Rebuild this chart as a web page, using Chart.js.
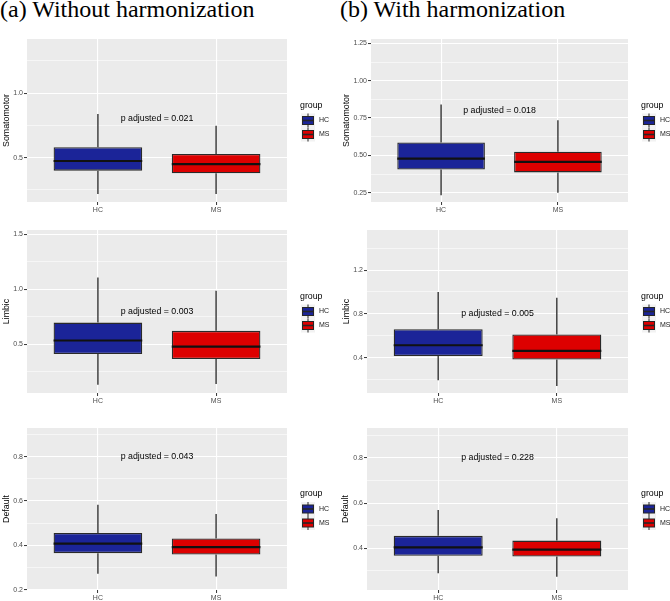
<!DOCTYPE html>
<html>
<head>
<meta charset="utf-8">
<script src="https://cdn.jsdelivr.net/npm/chart.js@4.4.1/dist/chart.umd.min.js"></script>
<style>
  body { margin: 0; background: #fff; width: 670px; height: 601px; overflow: hidden; position: relative; }
  .ttl { position: absolute; top: -3px; font-family: "Liberation Serif", "Times New Roman", serif; font-size: 24px; line-height: 24px; color: #000; white-space: nowrap; }
  canvas { position: absolute; display: block; }
</style>
</head>
<body>
<div class="ttl" style="left:0">(a) Without harmonization</div>
<div class="ttl" style="left:340px">(b) With harmonization</div>
<script>
// panels in reading order: row by row, left = without, right = with harmonization
const groups = ['HC', 'MS'];
const panelNames = ['Somatomotor', 'Somatomotor', 'Limbic', 'Limbic', 'Default', 'Default'];
const pValues = ['0.021', '0.018', '0.003', '0.005', '0.043', '0.228'];

// [HC, MS] per panel
const whiskerLow  = [[0.218, 0.218], [0.233, 0.250], [0.131, 0.137], [0.192, 0.140], [0.272, 0.260], [0.289, 0.274]];
const q1          = [[0.399, 0.379], [0.405, 0.386], [0.409, 0.364], [0.415, 0.382], [0.365, 0.359], [0.367, 0.363]];
const median      = [[0.474, 0.449], [0.478, 0.457], [0.533, 0.478], [0.513, 0.461], [0.408, 0.392], [0.404, 0.394]];
const q3          = [[0.581, 0.529], [0.587, 0.524], [0.696, 0.621], [0.660, 0.611], [0.456, 0.431], [0.455, 0.434]];
const whiskerHigh = [[0.839, 0.748], [0.840, 0.736], [1.106, 0.985], [1.000, 0.947], [0.583, 0.541], [0.570, 0.533]];

const yMin = [0.156, 0.188, 0.055, 0.076, 0.199, 0.215];
const yMax = [1.420, 1.279, 1.539, 1.567, 0.929, 0.933];
const yTickLabels = [
    ['0.5', '1.0'],
    ['0.25', '0.50', '0.75', '1.00', '1.25'],
    ['0.5', '1.0', '1.5'],
    ['0.4', '0.8', '1.2'],
    ['0.2', '0.4', '0.6', '0.8'],
    ['0.4', '0.6', '0.8']
];

const groupColors = ['#1B2498', '#DD0000'];
const pTextAt = { x: 1.5, y: 0.8 };

// page layout
const rows = [
    { top: 30, h: 188, padTop: 9, xH: 16 },
    { top: 220, h: 190, padTop: 10, xH: 17 },
    { top: 412, h: 189, padTop: 16, xH: 11 }
];
const cols = [{ left: 0, w: 335 }, { left: 335, w: 341 }];
const yAxisW = [27, 36, 27, 32, 27, 32];
const yTitlePad = [1.5, 6, 1.5, 6, 1.5, 5.5];

Chart.defaults.font.family = '"Liberation Sans", Arial, sans-serif';
Chart.defaults.animation = false;

function isMajor(p, v) {
    return yTickLabels[p].some(t => Math.abs(parseFloat(t) - v) < 1e-9);
}
function labelFor(p, v) {
    const t = yTickLabels[p].find(t => Math.abs(parseFloat(t) - v) < 1e-9);
    return t === undefined ? '' : t;
}
function buildYTicks(p) {
    const major = yTickLabels[p].map(Number);
    const step = major[1] - major[0];
    const all = major.slice();
    for (let i = -1; i < major.length; i++) all.push(major[0] + (i + 0.5) * step);
    return all.filter(v => v >= yMin[p] && v <= yMax[p]).sort((a, b) => a - b).map(v => ({ value: v }));
}

const boxParts = {
    id: 'boxParts',
    beforeDraw(chart) {
        const a = chart.chartArea, ctx = chart.ctx;
        ctx.save();
        ctx.fillStyle = '#EBEBEB';
        ctx.fillRect(a.left, a.top, a.right - a.left, a.bottom - a.top);
        ctx.restore();
    },
    beforeDatasetsDraw(chart, args, opts) {
        const p = opts.panel, ys = chart.scales.y, ctx = chart.ctx;
        ctx.save();
        ctx.strokeStyle = '#262626';
        ctx.lineWidth = 1.3;
        chart.data.datasets.forEach((ds, i) => {
            const el = chart.getDatasetMeta(i).data[0];
            ctx.beginPath();
            ctx.moveTo(el.x, ys.getPixelForValue(whiskerHigh[p][i]));
            ctx.lineTo(el.x, ys.getPixelForValue(q3[p][i]));
            ctx.moveTo(el.x, ys.getPixelForValue(q1[p][i]));
            ctx.lineTo(el.x, ys.getPixelForValue(whiskerLow[p][i]));
            ctx.stroke();
        });
        ctx.restore();
    },
    afterDatasetsDraw(chart, args, opts) {
        const p = opts.panel, xs = chart.scales.x, ys = chart.scales.y, ctx = chart.ctx;
        ctx.save();
        ctx.strokeStyle = '#111111';
        ctx.lineWidth = 2.2;
        chart.data.datasets.forEach((ds, i) => {
            const el = chart.getDatasetMeta(i).data[0];
            const y = ys.getPixelForValue(median[p][i]);
            ctx.beginPath();
            ctx.moveTo(el.x - el.width / 2, y);
            ctx.lineTo(el.x + el.width / 2, y);
            ctx.stroke();
        });
        ctx.fillStyle = '#000';
        ctx.font = '8.8px "Liberation Sans", Arial, sans-serif';
        ctx.textAlign = 'center';
        ctx.textBaseline = 'middle';
        ctx.fillText('p adjusted = ' + pValues[p], xs.getPixelForValue(pTextAt.x), ys.getPixelForValue(pTextAt.y));
        ctx.restore();
    },
    afterDraw(chart) {
        // ggplot style legend with boxplot keys
        const a = chart.chartArea, ctx = chart.ctx;
        const cy = (a.top + a.bottom) / 2;
        const x0 = a.right + 13;
        ctx.save();
        ctx.textBaseline = 'middle';
        ctx.textAlign = 'left';
        ctx.fillStyle = '#000';
        ctx.font = '8.8px "Liberation Sans", Arial, sans-serif';
        ctx.fillText('group', x0, cy - 15);
        chart.data.datasets.forEach((ds, i) => {
            const ky = cy + i * 14;
            ctx.fillStyle = '#F2F2F2';
            ctx.fillRect(x0 + 1, ky - 7, 14, 14);
            ctx.strokeStyle = '#262626';
            ctx.lineWidth = 1;
            ctx.beginPath();
            ctx.moveTo(x0 + 8, ky - 7);
            ctx.lineTo(x0 + 8, ky + 7);
            ctx.stroke();
            ctx.fillStyle = ds.backgroundColor;
            ctx.fillRect(x0 + 2.5, ky - 4, 11, 8);
            ctx.strokeRect(x0 + 2.5, ky - 4, 11, 8);
            ctx.lineWidth = 1.6;
            ctx.beginPath();
            ctx.moveTo(x0 + 2.5, ky);
            ctx.lineTo(x0 + 13.5, ky);
            ctx.stroke();
            ctx.fillStyle = '#1A1A1A';
            ctx.font = '7px "Liberation Sans", Arial, sans-serif';
            ctx.fillText(ds.label, x0 + 19, ky);
        });
        ctx.restore();
    }
};

for (let p = 0; p < 6; p++) {
    const row = rows[Math.floor(p / 2)], col = cols[p % 2];
    const canvas = document.createElement('canvas');
    canvas.width = col.w;
    canvas.height = row.h;
    canvas.style.left = col.left + 'px';
    canvas.style.top = row.top + 'px';
    document.body.appendChild(canvas);

    new Chart(canvas, {
        type: 'bar',
        data: {
            datasets: groups.map((g, i) => ({
                label: g,
                data: [{ x: i + 1, y: [q1[p][i], q3[p][i]] }],
                backgroundColor: groupColors[i],
                borderColor: '#2A2A2A',
                borderWidth: 1.3,
                borderSkipped: false,
                grouped: false,
                barPercentage: 0.75,
                categoryPercentage: 1
            }))
        },
        options: {
            responsive: false,
            animation: false,
            layout: { padding: { top: row.padTop, right: 48, bottom: 0, left: 0 } },
            plugins: {
                legend: { display: false },
                tooltip: { enabled: false },
                boxParts: { panel: p }
            },
            scales: {
                x: {
                    type: 'linear',
                    min: 0.4,
                    max: 2.6,
                    offset: false,
                    afterBuildTicks: s => { s.ticks = groups.map((g, i) => ({ value: i + 1 })); },
                    afterFit: s => { s.height = row.xH; },
                    ticks: {
                        callback: v => groups[Math.round(v) - 1],
                        font: { size: 7 },
                        color: '#4D4D4D',
                        padding: 0.5,
                        autoSkip: false,
                        maxRotation: 0
                    },
                    grid: { offset: false, color: '#FFFFFF', lineWidth: 1.1, tickColor: '#333333', tickWidth: 1, tickLength: 3 },
                    border: { display: false }
                },
                y: {
                    min: yMin[p],
                    max: yMax[p],
                    beginAtZero: false,
                    afterBuildTicks: s => { s.ticks = buildYTicks(p); },
                    afterFit: s => { s.width = yAxisW[p]; },
                    ticks: {
                        callback: v => labelFor(p, v),
                        font: { size: 7 },
                        color: '#4D4D4D',
                        padding: 1,
                        autoSkip: false
                    },
                    grid: {
                        color: '#FFFFFF',
                        lineWidth: c => (c.tick && isMajor(p, c.tick.value)) ? 1.1 : 0.55,
                        tickColor: c => (c.tick && isMajor(p, c.tick.value)) ? '#333333' : 'rgba(0,0,0,0)',
                        tickWidth: 1,
                        tickLength: 3
                    },
                    title: {
                        display: true,
                        text: panelNames[p],
                        font: { size: 8.8 },
                        color: '#000',
                        padding: { top: yTitlePad[p], bottom: 0 }
                    },
                    border: { display: false }
                }
            }
        },
        plugins: [boxParts]
    });
}
</script>
</body>
</html>
